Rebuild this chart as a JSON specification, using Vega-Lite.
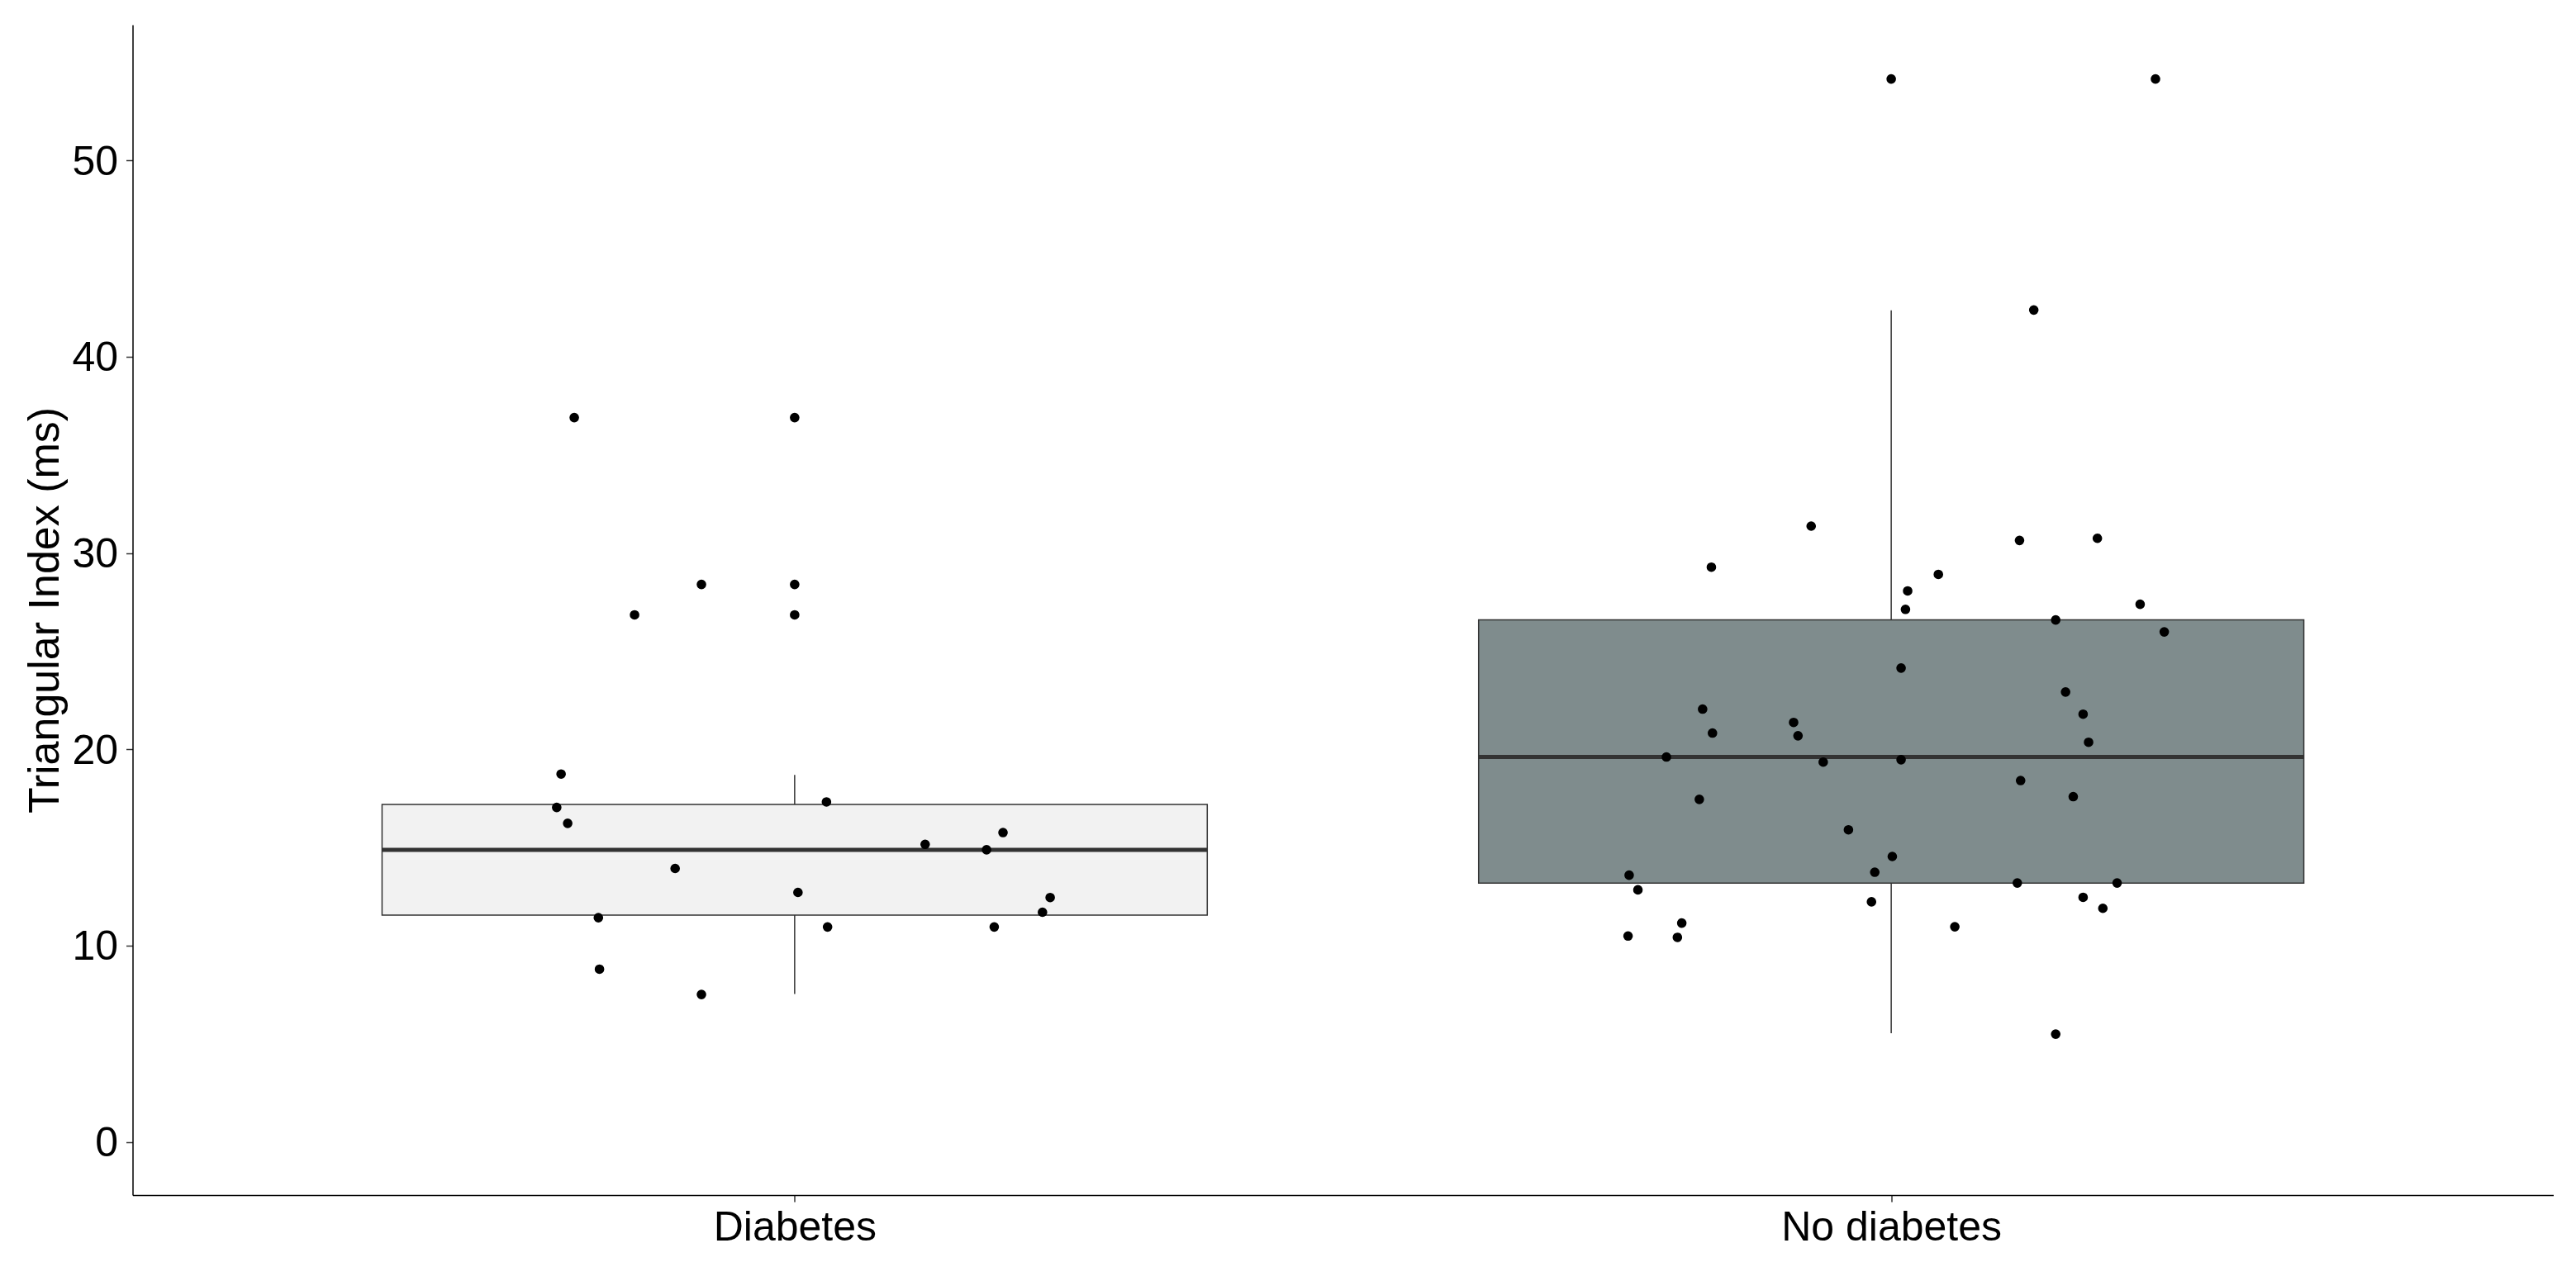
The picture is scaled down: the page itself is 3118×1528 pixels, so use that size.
{
  "$schema": "https://vega.github.io/schema/vega-lite/v6.json",
  "width": 2930,
  "height": 1417,
  "autosize": {"type": "none"},
  "padding": {"left": 160.5, "top": 30, "right": 27.5, "bottom": 81},
  "background": "white",
  "config": {
    "view": {"stroke": null},
    "axis": {
      "grid": false,
      "domainColor": "#000000",
      "domainWidth": 1.5,
      "tickColor": "#333333",
      "tickWidth": 1.5,
      "tickSize": 8,
      "labelFont": "Liberation Sans",
      "labelFontSize": 50,
      "labelColor": "#000000",
      "labelLimit": 0,
      "titleFont": "Liberation Sans",
      "titleFontSize": 52,
      "titleFontWeight": "normal",
      "titleColor": "#000000",
      "titleLimit": 0
    }
  },
  "datasets": {
    "boxes": [
      {"group": "Diabetes", "pos": 1, "lower": 7.53, "q1": 11.55, "median": 14.88, "q3": 17.19, "upper": 18.70},
      {"group": "No diabetes", "pos": 2, "lower": 5.54, "q1": 13.18, "median": 19.61, "q3": 26.59, "upper": 42.36}
    ],
    "points": [
      {"group": "Diabetes", "x": 1.0, "value": 36.9, "kind": "outlier"},
      {"group": "Diabetes", "x": 1.0, "value": 28.4, "kind": "outlier"},
      {"group": "Diabetes", "x": 1.0, "value": 26.85, "kind": "outlier"},
      {"group": "Diabetes", "x": 0.799, "value": 36.9, "kind": "jitter"},
      {"group": "Diabetes", "x": 0.915, "value": 28.4, "kind": "jitter"},
      {"group": "Diabetes", "x": 0.854, "value": 26.85, "kind": "jitter"},
      {"group": "Diabetes", "x": 0.787, "value": 18.74, "kind": "jitter"},
      {"group": "Diabetes", "x": 0.783, "value": 17.04, "kind": "jitter"},
      {"group": "Diabetes", "x": 0.793, "value": 16.23, "kind": "jitter"},
      {"group": "Diabetes", "x": 1.029, "value": 17.32, "kind": "jitter"},
      {"group": "Diabetes", "x": 1.19, "value": 15.76, "kind": "jitter"},
      {"group": "Diabetes", "x": 1.119, "value": 15.16, "kind": "jitter"},
      {"group": "Diabetes", "x": 1.175, "value": 14.88, "kind": "jitter"},
      {"group": "Diabetes", "x": 0.891, "value": 13.93, "kind": "jitter"},
      {"group": "Diabetes", "x": 1.003, "value": 12.71, "kind": "jitter"},
      {"group": "Diabetes", "x": 1.233, "value": 12.45, "kind": "jitter"},
      {"group": "Diabetes", "x": 1.226, "value": 11.7, "kind": "jitter"},
      {"group": "Diabetes", "x": 0.821, "value": 11.42, "kind": "jitter"},
      {"group": "Diabetes", "x": 1.03, "value": 10.95, "kind": "jitter"},
      {"group": "Diabetes", "x": 1.182, "value": 10.95, "kind": "jitter"},
      {"group": "Diabetes", "x": 0.822, "value": 8.8, "kind": "jitter"},
      {"group": "Diabetes", "x": 0.915, "value": 7.51, "kind": "jitter"},
      {"group": "No diabetes", "x": 2.0, "value": 54.15, "kind": "outlier"},
      {"group": "No diabetes", "x": 2.241, "value": 54.15, "kind": "jitter"},
      {"group": "No diabetes", "x": 2.13, "value": 42.38, "kind": "jitter"},
      {"group": "No diabetes", "x": 1.927, "value": 31.37, "kind": "jitter"},
      {"group": "No diabetes", "x": 1.836, "value": 29.28, "kind": "jitter"},
      {"group": "No diabetes", "x": 2.117, "value": 30.64, "kind": "jitter"},
      {"group": "No diabetes", "x": 2.188, "value": 30.75, "kind": "jitter"},
      {"group": "No diabetes", "x": 2.043, "value": 28.91, "kind": "jitter"},
      {"group": "No diabetes", "x": 2.015, "value": 28.07, "kind": "jitter"},
      {"group": "No diabetes", "x": 2.013, "value": 27.13, "kind": "jitter"},
      {"group": "No diabetes", "x": 2.227, "value": 27.39, "kind": "jitter"},
      {"group": "No diabetes", "x": 2.15, "value": 26.59, "kind": "jitter"},
      {"group": "No diabetes", "x": 2.249, "value": 25.98, "kind": "jitter"},
      {"group": "No diabetes", "x": 2.009, "value": 24.14, "kind": "jitter"},
      {"group": "No diabetes", "x": 2.159, "value": 22.92, "kind": "jitter"},
      {"group": "No diabetes", "x": 1.828, "value": 22.05, "kind": "jitter"},
      {"group": "No diabetes", "x": 2.175, "value": 21.79, "kind": "jitter"},
      {"group": "No diabetes", "x": 1.911, "value": 21.37, "kind": "jitter"},
      {"group": "No diabetes", "x": 1.837, "value": 20.83, "kind": "jitter"},
      {"group": "No diabetes", "x": 1.915, "value": 20.69, "kind": "jitter"},
      {"group": "No diabetes", "x": 2.18, "value": 20.36, "kind": "jitter"},
      {"group": "No diabetes", "x": 1.795, "value": 19.61, "kind": "jitter"},
      {"group": "No diabetes", "x": 2.009, "value": 19.47, "kind": "jitter"},
      {"group": "No diabetes", "x": 1.938, "value": 19.35, "kind": "jitter"},
      {"group": "No diabetes", "x": 2.118, "value": 18.41, "kind": "jitter"},
      {"group": "No diabetes", "x": 1.825, "value": 17.45, "kind": "jitter"},
      {"group": "No diabetes", "x": 2.166, "value": 17.59, "kind": "jitter"},
      {"group": "No diabetes", "x": 1.961, "value": 15.9, "kind": "jitter"},
      {"group": "No diabetes", "x": 2.001, "value": 14.54, "kind": "jitter"},
      {"group": "No diabetes", "x": 1.761, "value": 13.59, "kind": "jitter"},
      {"group": "No diabetes", "x": 1.985, "value": 13.74, "kind": "jitter"},
      {"group": "No diabetes", "x": 2.115, "value": 13.19, "kind": "jitter"},
      {"group": "No diabetes", "x": 2.206, "value": 13.19, "kind": "jitter"},
      {"group": "No diabetes", "x": 1.769, "value": 12.84, "kind": "jitter"},
      {"group": "No diabetes", "x": 1.982, "value": 12.23, "kind": "jitter"},
      {"group": "No diabetes", "x": 2.175, "value": 12.46, "kind": "jitter"},
      {"group": "No diabetes", "x": 2.193, "value": 11.9, "kind": "jitter"},
      {"group": "No diabetes", "x": 1.809, "value": 11.15, "kind": "jitter"},
      {"group": "No diabetes", "x": 2.058, "value": 10.96, "kind": "jitter"},
      {"group": "No diabetes", "x": 1.76, "value": 10.49, "kind": "jitter"},
      {"group": "No diabetes", "x": 1.805, "value": 10.42, "kind": "jitter"},
      {"group": "No diabetes", "x": 2.15, "value": 5.49, "kind": "jitter"}
    ]
  },
  "layer": [
    {
      "data": {"name": "boxes"},
      "mark": {"type": "rule", "color": "#333333", "strokeWidth": 1.5},
      "encoding": {
        "x": {
          "field": "pos", "type": "quantitative",
          "scale": {"domain": [0.4, 2.6], "nice": false, "zero": false},
          "axis": {
            "title": null,
            "values": [1, 2],
            "labelExpr": "datum.value == 1 ? 'Diabetes' : 'No diabetes'",
            "labelPadding": 6.3,
            "labelFlush": false,
            "labelOverlap": false
          }
        },
        "y": {
          "field": "lower", "type": "quantitative",
          "scale": {"domain": [-2.71, 56.91], "nice": false, "zero": false},
          "axis": {
            "title": "Triangular Index (ms)",
            "values": [0, 10, 20, 30, 40, 50],
            "labelPadding": 10,
            "titlePadding": 5,
            "labelOffset": 2,
            "labelFlush": false,
            "labelOverlap": false
          }
        },
        "y2": {"field": "upper"}
      }
    },
    {
      "data": {"name": "boxes"},
      "mark": {"type": "bar", "width": 998.85, "stroke": "#333333", "strokeWidth": 1.5},
      "encoding": {
        "x": {"field": "pos", "type": "quantitative"},
        "y": {"field": "q1", "type": "quantitative"},
        "y2": {"field": "q3"},
        "color": {
          "field": "group", "type": "nominal",
          "scale": {"domain": ["Diabetes", "No diabetes"], "range": ["#F2F2F2", "#7F8C8D"]},
          "legend": null
        },
        "opacity": {"value": 1}
      }
    },
    {
      "data": {"name": "boxes"},
      "mark": {"type": "rule", "color": "#333333", "strokeWidth": 5, "xOffset": -499.4, "x2Offset": 499.4},
      "encoding": {
        "x": {"field": "pos", "type": "quantitative"},
        "x2": {"field": "pos"},
        "y": {"field": "median", "type": "quantitative"}
      }
    },
    {
      "data": {"name": "points"},
      "mark": {"type": "circle", "size": 135, "color": "#000000", "opacity": 1},
      "encoding": {
        "x": {"field": "x", "type": "quantitative"},
        "y": {"field": "value", "type": "quantitative"}
      }
    }
  ]
}
